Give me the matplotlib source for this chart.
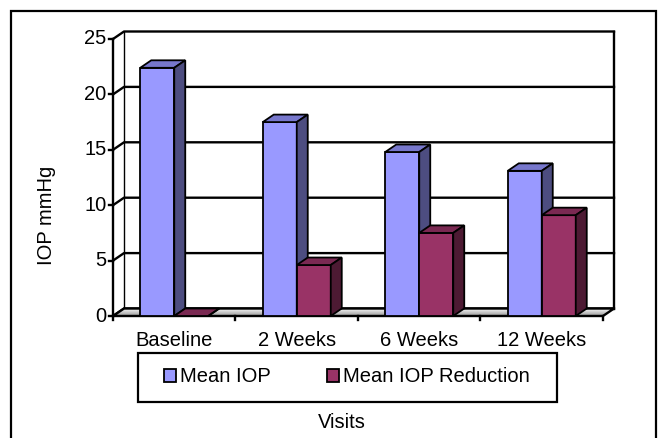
import matplotlib.pyplot as plt
import numpy as np
from matplotlib.patches import Polygon, Rectangle, Patch

visits = ['Baseline', '2 Weeks', '6 Weeks', '12 Weeks']
mean_iop = [22.4, 17.5, 14.8, 13.1]
iop_reduction = [0.0, 4.6, 7.5, 9.1]
y_ticks = [0, 5, 10, 15, 20, 25]

plt.rcParams['font.family'] = ['Liberation Sans', 'DejaVu Sans']
FS = 14.5

W, H = 660, 438
fig = plt.figure(figsize=(W / 100, H / 100), dpi=100)

# pixel geometry of the plot box
px_x0, px_unit_x = 113, 122.5
px_y0, px_unit_y = 316, 11.08
dx = 11 / px_unit_x
dy = 7.5 / px_unit_y
xmax = 4 + dx
ymax = 25 + dy
ax = fig.add_axes([px_x0 / W, (H - px_y0) / H,
                   xmax * px_unit_x / W, ymax * px_unit_y / H])
ax.axis('off')

lw = 1.7
# left wall gridlines + back wall gridlines
for t in y_ticks:
    ax.plot([0, dx, 4 + dx], [t, t + dy, t + dy], color='black', lw=lw, zorder=1,
            clip_on=False, solid_capstyle='projecting')
    ax.plot([-0.03, 0], [t, t], color='black', lw=lw, clip_on=False, zorder=1)
    ax.text(-0.055, t, str(t), ha='right', va='center', fontsize=FS)

# walls outline
ax.plot([0, 0], [0, 25], color='black', lw=lw, clip_on=False, zorder=1)
ax.plot([dx, dx], [dy, 25 + dy], color='black', lw=1.0, clip_on=False, zorder=1)
ax.plot([4 + dx, 4 + dx], [dy, 25 + dy], color='black', lw=lw, clip_on=False, zorder=1)

# floor with grey gradient
floor = Polygon([[0, 0], [4, 0], [4 + dx, dy], [dx, dy]], closed=True,
                facecolor='none', edgecolor='black', lw=lw, zorder=2, clip_on=False)
grad = np.linspace(0.55, 1.0, 50).reshape(-1, 1)
img = ax.imshow(grad, cmap='gray', vmin=0, vmax=1, extent=[0, 4 + dx, 0, dy],
                origin='lower', aspect='auto', zorder=1.5, alpha=0.9)
ax.add_patch(floor)
img.set_clip_path(floor)
ax.set_xlim(0, xmax)
ax.set_ylim(0, ymax)

# category ticks on the floor front edge
for i in range(5):
    ax.plot([i, i], [0, -0.35], color='black', lw=lw, clip_on=False, zorder=2)
for i, lab in enumerate(visits):
    ax.text(i + 0.5, -2.2, lab, ha='center', va='center', fontsize=FS)

# bars with fake 3d faces
bw = 34 / px_unit_x
series = [
    (mean_iop, '#9999ff', '#7777cc', '#4d4d80', 'Mean IOP'),
    (iop_reduction, '#993366', '#7a2952', '#4d1a33', 'Mean IOP Reduction'),
]
z = 3
for i in range(len(visits)):
    for k, (vals, c_front, c_top, c_side, _) in enumerate(series):
        x0 = i + 0.5 - bw + k * bw
        v = vals[i]
        ax.bar(x0, v, width=bw, align='edge', color=c_front, edgecolor='black',
               lw=1.3, zorder=z)
        ax.add_patch(Polygon([[x0, v], [x0 + bw, v], [x0 + bw + dx, v + dy], [x0 + dx, v + dy]],
                             closed=True, facecolor=c_top, edgecolor='black', lw=1.3, zorder=z))
        ax.add_patch(Polygon([[x0 + bw, 0], [x0 + bw + dx, dy], [x0 + bw + dx, v + dy], [x0 + bw, v]],
                             closed=True, facecolor=c_side, edgecolor='black', lw=1.3, zorder=z))
        z += 1

fig.text(47 / W, 1 - 215 / H, 'IOP mmHg', rotation=90, ha='center', va='center', fontsize=FS)
fig.text(342 / W, 1 - 423 / H, 'Visits', ha='center', va='center', fontsize=FS)

handles = [Patch(facecolor=s[1], edgecolor='black', lw=1.3, label=s[4]) for s in series]
leg = fig.legend(handles=handles, loc='center', bbox_to_anchor=(347 / W, 1 - 377 / H),
                 ncol=2, fontsize=FS, frameon=False, handlelength=0.6,
                 handleheight=0.6, handletextpad=0.2, columnspacing=2.8,
                 borderpad=0.5, borderaxespad=0)
# legend box drawn separately (Excel-like padding)
fig.patches.append(Rectangle((138 / W, 1 - 402 / H), 419 / W, 49 / H, transform=fig.transFigure,
                             fill=False, edgecolor='black', lw=1.6))

# outer chart border
fig.patches.append(Rectangle((11 / W, -0.02), 645 / W, 1.02 - 11 / H, transform=fig.transFigure,
                             fill=False, edgecolor='black', lw=1.6))

fig.savefig('out.png', dpi=100)
